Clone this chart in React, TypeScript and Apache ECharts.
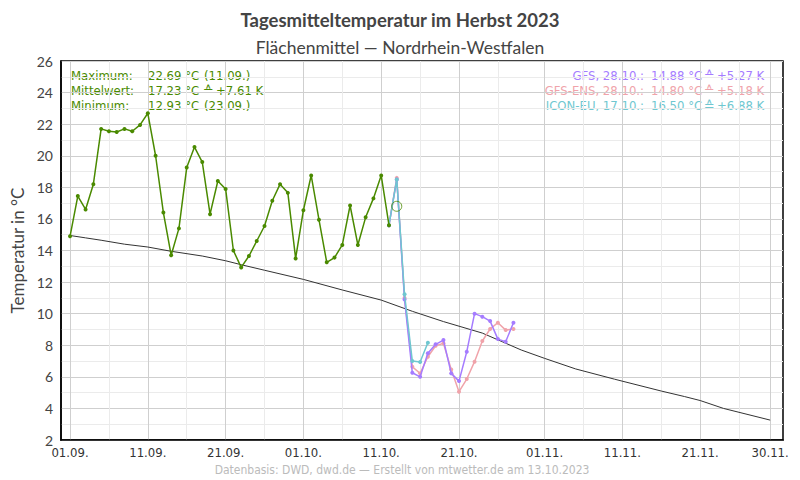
import React, { useEffect, useRef } from "react";
import * as echarts from "echarts";

// Observed daily mean temperature, day 0 = 01.09.
const obsValues = [
  14.9, 17.45, 16.6, 18.2, 21.7, 21.55, 21.5, 21.7, 21.55, 21.95,
  22.69, 20.0, 16.4, 13.7, 15.4, 19.25, 20.55, 19.6, 16.3, 18.4,
  17.9, 14.0, 12.93, 13.65, 14.6, 15.55, 17.15, 18.2, 17.65, 13.5,
  16.55, 18.75, 15.95, 13.25, 13.55, 14.35, 16.85, 14.35, 16.1, 17.3,
  18.75, 15.6,
];
// Forecasts start at day 41 (12.10.)
const forecastStart = 41;
const gfsValues = [15.6, 18.5, 10.9, 6.26, 6.0, 7.49, 8.06, 8.33, 6.22, 5.73, 7.59, 10.0, 9.81, 9.53, 8.39, 8.22, 9.43];
const ensValues = [15.6, 18.6, 11.0, 6.64, 6.22, 7.27, 7.97, 8.12, 6.47, 5.06, 5.86, 6.96, 8.27, 9.03, 9.43, 8.96, 9.03];
const iconValues = [15.6, 18.5, 11.23, 7.0, 6.94, 8.16];
// Climatological mean (day, value)
const climateDays = [0, 2, 4, 7, 10, 13, 17, 20, 22, 25, 30, 35, 40, 44, 48, 53, 58, 61, 65, 70, 76, 79, 81, 84, 90];
const climateValues = [14.95, 14.8, 14.65, 14.4, 14.22, 13.95, 13.65, 13.35, 13.1, 12.75, 12.17, 11.5, 10.86, 10.15, 9.5, 8.77, 7.7, 7.17, 6.5, 5.85, 5.1, 4.75, 4.5, 4.0, 3.26];
// Running mean marker
const markerDay = 42;
const markerValue = 16.8;

const tickDays = [0, 10, 20, 30, 40, 50, 61, 71, 81, 90];
const tickLabels = ["01.09.", "11.09.", "21.09.", "01.10.", "11.10.", "21.10.", "01.11.", "11.11.", "21.11.", "30.11."];
const minorDays = [5, 15, 25, 35, 45, 55, 66, 76, 86];

const statLabels = ["Maximum:", "Mittelwert:", "Minimum:"];
const statValues = ["22.69 °C", "17.23 °C", "12.93 °C"];
const statExtras = ["(11.09.)", "", "(23.09.)"];
const statAnom = ["", "+7.61 K", ""];

const fcNames = ["GFS, 28.10.:", "GFS-ENS, 28.10.:", "ICON-EU, 17.10.:"];
const fcValues = ["14.88 °C", "14.80 °C", "16.50 °C"];
const fcAnoms = ["+5.27 K", "+5.18 K", "+6.88 K"];

const GREEN = "#4a8a00";
const GFS = "#a57cff";
const ENS = "#f0a3aa";
const ICON = "#6fc7d0";
const fcColors = [GFS, ENS, ICON];

const SANS = 'Lato, "Noto Sans", sans-serif';
const NARROW = '"Liberation Sans Narrow", "DejaVu Sans Condensed", Lato, sans-serif';
const LEG = '"DejaVu Sans Condensed", "DejaVu Sans", sans-serif';
const SYM = '"DejaVu Sans", sans-serif';

export default function App() {
  const ref = useRef<HTMLDivElement>(null);
  useEffect(() => {
    if (!ref.current) return;
    const chart = echarts.init(ref.current, null, { renderer: "svg" });
    const graphics: any[] = [];
    const rowY = [75, 90, 105];
    rowY.forEach((y, i) => {
      const base = { fill: GREEN, font: `13px ${LEG}`, verticalAlign: "middle" };
      graphics.push({ type: "text", x: 71, y, style: { ...base, text: statLabels[i], align: "left" } });
      graphics.push({ type: "text", x: 148, y, style: { ...base, text: statValues[i], align: "left" } });
      if (statExtras[i]) graphics.push({ type: "text", x: 204, y, style: { ...base, text: statExtras[i], align: "left" } });
      if (statAnom[i]) {
        graphics.push({ type: "text", x: 203, y, style: { ...base, font: `13px ${SYM}`, text: "≙", align: "left" } });
        graphics.push({ type: "text", x: 216, y, style: { ...base, text: statAnom[i], align: "left" } });
      }
      const fb = { fill: fcColors[i], font: `13px ${LEG}`, verticalAlign: "middle" };
      graphics.push({ type: "text", x: 644, y, style: { ...fb, text: fcNames[i], align: "right" } });
      graphics.push({ type: "text", x: 651, y, style: { ...fb, text: fcValues[i], align: "left" } });
      graphics.push({ type: "text", x: 704, y, style: { ...fb, font: `13px ${SYM}`, text: "≙", align: "left" } });
      graphics.push({ type: "text", x: 717, y, style: { ...fb, text: fcAnoms[i], align: "left" } });
    });
    graphics.push({
      type: "text", x: 402, y: 470,
      style: { text: "Datenbasis: DWD, dwd.de — Erstellt von mtwetter.de am 13.10.2023", fill: "#bbbbbb", font: `12px ${NARROW}`, align: "center", verticalAlign: "middle" },
    });

    const xBase = { type: "value", min: -1.16, max: 91.65, gridIndex: 0 };
    chart.setOption({
      animation: false,
      backgroundColor: "#ffffff",
      title: [
        { text: "Tagesmitteltemperatur im Herbst 2023", left: "center", top: 5, textStyle: { fontFamily: SANS, fontWeight: "bold", fontSize: 18.5, color: "#444" } },
        { text: "Flächenmittel — Nordrhein-Westfalen", left: "center", top: 33, textStyle: { fontFamily: SANS, fontWeight: "normal", fontSize: 17.5, color: "#444" } },
      ],
      grid: { left: 61, right: 17, top: 61, bottom: 40, show: true, borderColor: "#000", borderWidth: 1.5, backgroundColor: "transparent", containLabel: false, outerBoundsMode: "none" },
      xAxis: [
        {
          ...xBase,
          axisLine: { show: true, onZero: false, lineStyle: { color: "#000", width: 1.5 } },
          axisTick: { show: false, customValues: tickDays },
          axisLabel: {
            customValues: tickDays,
            formatter: (v: number) => { const k = tickDays.indexOf(Math.round(v)); return k >= 0 ? tickLabels[k] : ""; },
            fontFamily: NARROW, fontSize: 13, color: "#333", margin: 6,
          },
          splitLine: { show: true, lineStyle: { color: "#cfcfcf", width: 1 } },
        },
        {
          ...xBase,
          position: "bottom",
          axisLine: { show: false, onZero: false },
          axisTick: { show: false, customValues: minorDays },
          axisLabel: { show: false, customValues: minorDays },
          splitLine: { show: true, lineStyle: { color: "#ebebeb", width: 1 } },
        },
      ],
      yAxis: {
        type: "value", min: 2, max: 26, interval: 2,
        name: "Temperatur in °C", nameLocation: "middle", nameGap: 34, nameRotate: 90,
        nameTextStyle: { fontFamily: SANS, fontSize: 17, color: "#444" },
        axisLine: { show: true, onZero: false, lineStyle: { color: "#000", width: 1.5 } },
        axisTick: { show: false },
        axisLabel: { fontFamily: SANS, fontSize: 14, color: "#444", margin: 8 },
        splitLine: { show: true, lineStyle: { color: "#cfcfcf", width: 1 } },
        minorTick: { show: false, splitNumber: 2 },
        minorSplitLine: { show: true, lineStyle: { color: "#ebebeb", width: 1 } },
      },
      graphic: graphics,
      series: [
        {
          type: "line", name: "Klima", xAxisIndex: 0,
          data: climateDays.map((d, i) => [d, climateValues[i]]),
          showSymbol: false, symbol: "none",
          lineStyle: { color: "#333", width: 1 }, z: 2,
        },
        {
          type: "line", name: "GFS-ENS", xAxisIndex: 0,
          data: ensValues.map((v, i) => [forecastStart + i, v]),
          symbol: "circle", symbolSize: 4, showSymbol: true,
          lineStyle: { color: ENS, width: 1.5 }, itemStyle: { color: ENS }, z: 3,
        },
        {
          type: "line", name: "GFS", xAxisIndex: 0,
          data: gfsValues.map((v, i) => [forecastStart + i, v]),
          symbol: "circle", symbolSize: 4, showSymbol: true,
          lineStyle: { color: GFS, width: 1.5 }, itemStyle: { color: GFS }, z: 4,
        },
        {
          type: "line", name: "ICON-EU", xAxisIndex: 0,
          data: iconValues.map((v, i) => [forecastStart + i, v]),
          symbol: "circle", symbolSize: 4, showSymbol: true,
          lineStyle: { color: ICON, width: 1.5 }, itemStyle: { color: ICON }, z: 5,
        },
        {
          type: "line", name: "Beobachtung", xAxisIndex: 0,
          data: obsValues.map((v, i) => [i, v]),
          symbol: "circle", symbolSize: 4, showSymbol: true,
          lineStyle: { color: GREEN, width: 1.5 }, itemStyle: { color: GREEN }, z: 6,
        },
        {
          type: "scatter", name: "Mittel", xAxisIndex: 0,
          data: [[markerDay, markerValue]],
          symbol: "circle", symbolSize: 10,
          itemStyle: { color: "rgba(0,0,0,0)", borderColor: GREEN, borderWidth: 1 }, z: 7,
        },
      ],
    });
    return () => chart.dispose();
  }, []);
  return <div ref={ref} style={{ width: 800, height: 480, position: "absolute", left: 0, top: 0 }} />;
}
